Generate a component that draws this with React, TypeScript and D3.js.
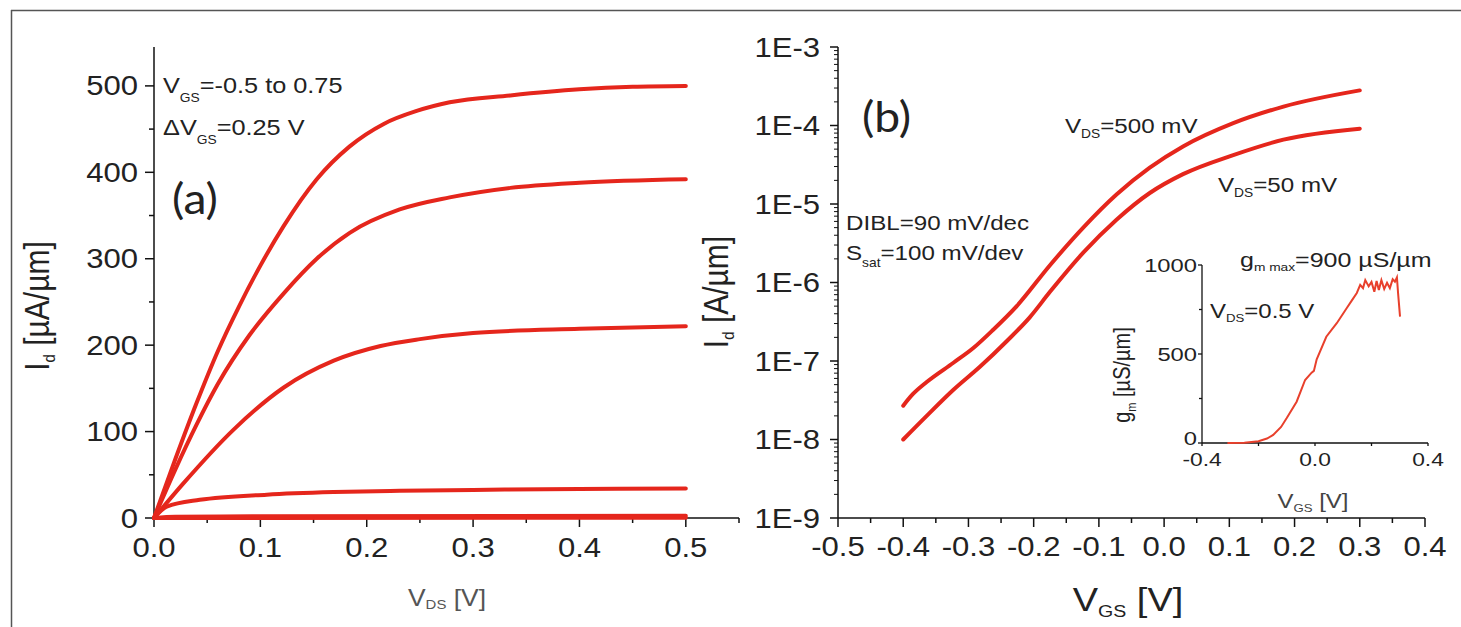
import React from 'react';
import * as d3 from 'd3';

// (a) output curves, [V_DS (V), I_d (uA/um)], V_GS = 0.75 ... -0.5
const outVgs075 = [[0, 0], [0.02, 68], [0.04, 133], [0.06, 193], [0.08, 245], [0.1, 292], [0.122, 338], [0.153, 392], [0.184, 430], [0.216, 456], [0.247, 471], [0.278, 481], [0.335, 489], [0.4, 496], [0.45, 499], [0.5, 500]];
const outVgs050 = [[0, 0], [0.02, 56], [0.04, 108], [0.06, 155], [0.09, 212], [0.122, 260], [0.153, 300], [0.184, 330], [0.231, 357], [0.278, 371], [0.335, 382], [0.4, 388], [0.5, 392]];
const outVgs025 = [[0, 0], [0.0276, 40], [0.0746, 102], [0.122, 151], [0.169, 182], [0.213, 199], [0.25, 207], [0.3, 214], [0.4, 219], [0.5, 222]];
const outVgs000 = [[0, 0], [0.012, 13], [0.043, 21], [0.106, 27], [0.169, 30], [0.231, 31.5], [0.3, 32.5], [0.4, 33.5], [0.5, 34]];
const outVgsM025 = [[0, 0], [0.02, 1.5], [0.1, 2], [0.5, 2.5]];
const outVgsM050 = [[0, 0], [0.5, 0.3]];
const outCurves = [outVgs075, outVgs050, outVgs025, outVgs000, outVgsM025, outVgsM050];

// (b) transfer curves
const vgsSat = [-0.4, -0.385, -0.364, -0.323, -0.293, -0.262, -0.226, -0.175, -0.124, -0.073, -0.022, 0.029, 0.106, 0.183, 0.3];
const idSat = [2.7e-8, 3.8e-8, 5.4e-8, 9.5e-8, 1.45e-7, 2.5e-7, 5.0e-7, 1.66e-6, 5.0e-6, 1.32e-5, 2.9e-5, 5.4e-5, 1.07e-4, 1.74e-4, 2.8e-4];
const vgsLin = [-0.4, -0.364, -0.323, -0.282, -0.241, -0.206, -0.175, -0.124, -0.073, -0.022, 0.029, 0.106, 0.183, 0.3];
const idLin = [1.0e-8, 2.0e-8, 4.3e-8, 8.5e-8, 1.8e-7, 3.6e-7, 7.6e-7, 2.4e-6, 6.3e-6, 1.38e-5, 2.4e-5, 4.2e-5, 6.6e-5, 9.1e-5];

// inset gm
const vgsGm = [-0.31, -0.25, -0.2, -0.17, -0.148, -0.12, -0.1, -0.065, -0.035, -0.012, -0.004, 0.006, 0.04, 0.077, 0.112, 0.13, 0.148, 0.16, 0.17, 0.178, 0.19, 0.2, 0.21, 0.218, 0.226, 0.235, 0.245, 0.255, 0.265, 0.275, 0.283, 0.29, 0.294, 0.301];
const gmVals = [0, 2, 10, 25, 45, 90, 140, 232, 354, 395, 405, 470, 597, 673, 757, 800, 843, 888, 870, 915, 880, 905, 850, 910, 860, 915, 865, 900, 870, 920, 906, 930, 843, 710];

const ticksA_X = [0, 0.1, 0.2, 0.3, 0.4, 0.5];
const ticksA_Y = [0, 100, 200, 300, 400, 500];
const ticksB_X = [-0.5, -0.4, -0.3, -0.2, -0.1, 0, 0.1, 0.2, 0.3, 0.4];
const ticksB_Y = [1e-9, 1e-8, 1e-7, 1e-6, 1e-5, 1e-4, 1e-3];
const ticksB_YLabels = ['1E-9', '1E-8', '1E-7', '1E-6', '1E-5', '1E-4', '1E-3'];
const ticksC_X = [-0.4, 0, 0.4];
const ticksC_Y = [0, 500, 1000];

const RED = '#e5261c';
const ARIAL = '"Liberation Sans", Arial, sans-serif';
const LATO = 'Lato, "Open Sans", sans-serif';
const SX = 1.15;
const INK = '#222';

function T({ x, y, size, anchor = 'start', fill = INK, family = ARIAL, sx = SX, rotate = false, spacing = 0, children }: any) {
  const tf = rotate
    ? `translate(${x},${y}) rotate(-90) scale(1,${sx})`
    : `translate(${x},${y}) scale(${sx},1)`;
  return (
    <text transform={tf} fontSize={size} textAnchor={anchor} fill={fill} fontFamily={family} letterSpacing={spacing}>
      {children}
    </text>
  );
}

function Sub({ main, sub, rest, size, dy }: any) {
  return (
    <>
      <tspan>{main}</tspan>
      <tspan fontSize={size} dy={dy}>{sub}</tspan>
      <tspan dy={-dy}>{rest}</tspan>
    </>
  );
}

export default function App() {
  const xA = d3.scaleLinear().domain([0, 0.55]).range([154, 739]);
  const yA = d3.scaleLinear().domain([0, 545]).range([518, 47]);
  const xB = d3.scaleLinear().domain([-0.5, 0.4]).range([838, 1425]);
  const yB = d3.scaleLog().domain([1e-9, 1e-3]).range([518, 47]);
  const xC = d3.scaleLinear().domain([-0.4, 0.4]).range([1202, 1428]);
  const yC = d3.scaleLinear().domain([0, 1000]).range([443, 265]);

  const lineA = d3.line<number[]>().x(d => xA(d[0])).y(d => yA(d[1])).curve(d3.curveMonotoneX);
  const lineB = (xs: number[], ys: number[]) =>
    d3.line<number>().x(d => xB(d)).y((d, i) => yB(ys[i])).curve(d3.curveMonotoneX)(xs);
  const lineC = d3.line<number>().x(d => xC(d)).y((d, i) => yC(gmVals[i]))(vgsGm);

  const minorA_X = d3.range(0, 0.551, 0.05);
  const minorA_Y = d3.range(0, 501, 50);
  const minorB_X = d3.range(-0.5, 0.401, 0.05);
  const minorB_Y: number[] = [];
  for (let e = -9; e < -3; e++) for (let m = 2; m < 10; m++) minorB_Y.push(m * Math.pow(10, e));

  return (
    <svg width={1461} height={627} style={{ position: 'absolute', left: 0, top: 0, background: '#fff' }}>
      {/* frame */}
      <line x1={11} x2={1461} y1={10.5} y2={10.5} stroke="#555" strokeWidth={1.5} />
      <line x1={11.5} x2={11.5} y1={10} y2={627} stroke="#555" strokeWidth={1.5} />

      {/* ---------- panel (a) ---------- */}
      <g stroke="#111" strokeWidth={1.5}>
        <line x1={xA(0)} x2={xA(0)} y1={yA(0)} y2={yA(545)} />
        <line x1={xA(0)} x2={xA(0.55)} y1={yA(0)} y2={yA(0)} />
        {minorA_Y.map(v => (
          <line key={'ay' + v} x1={xA(0)} x2={xA(0) - (v % 100 === 0 ? 9 : 5)} y1={yA(v)} y2={yA(v)} />
        ))}
        {minorA_X.map((v, i) => (
          <line key={'ax' + i} x1={xA(v)} x2={xA(v)} y1={yA(0)} y2={yA(0) + (i % 2 === 0 ? 9 : 5)} />
        ))}
      </g>
      {ticksA_Y.map(v => (
        <T key={'aly' + v} x={138} y={yA(v) + 9.5} size={27} anchor="end">{v}</T>
      ))}
      {ticksA_X.map(v => (
        <T key={'alx' + v} x={xA(v)} y={557} size={27} anchor="middle">{v.toFixed(1)}</T>
      ))}
      <g fill="none" stroke={RED} strokeWidth={4} strokeLinecap="round">
        {outCurves.map((c, i) => <path key={'oc' + i} d={lineA(c) || ''} />)}
      </g>
      <T x={49} y={306} size={30} anchor="middle" rotate>
        <Sub main="I" sub="d" rest=" [µA/µm]" size={15} dy={5} />
      </T>
      <T x={447} y={606} size={23} anchor="middle" fill="#555">
        <Sub main="V" sub="DS" rest=" [V]" size={13} dy={3} />
      </T>
      <T x={163} y={93} size={22}>
        <Sub main="V" sub="GS" rest="=-0.5 to 0.75" size={12} dy={9} />
      </T>
      <T x={163} y={135} size={22}>
        <Sub main="ΔV" sub="GS" rest="=0.25 V" size={12} dy={9} />
      </T>
      <T x={172} y={214} size={42} family={LATO} sx={1.1}>(a)</T>

      {/* ---------- panel (b) ---------- */}
      <g stroke="#111" strokeWidth={1.5}>
        <line x1={xB(-0.5)} x2={xB(-0.5)} y1={yB(1e-9)} y2={yB(1e-3)} />
        <line x1={xB(-0.5)} x2={xB(0.4)} y1={yB(1e-9)} y2={yB(1e-9)} />
        {ticksB_Y.map(v => (
          <line key={'by' + v} x1={xB(-0.5)} x2={xB(-0.5) - 8} y1={yB(v)} y2={yB(v)} />
        ))}
        {minorB_Y.map((v, i) => (
          <line key={'bym' + i} x1={xB(-0.5)} x2={xB(-0.5) - 4} y1={yB(v)} y2={yB(v)} strokeWidth={1} />
        ))}
        {minorB_X.map((v, i) => (
          <line key={'bx' + i} x1={xB(v)} x2={xB(v)} y1={yB(1e-9)} y2={yB(1e-9) + (i % 2 === 0 ? 9 : 5)} />
        ))}
      </g>
      {ticksB_Y.map((v, i) => (
        <T key={'bly' + i} x={820} y={yB(v) + 9.5} size={27} anchor="end">{ticksB_YLabels[i]}</T>
      ))}
      {ticksB_X.map(v => (
        <T key={'blx' + v} x={xB(v)} y={556} size={27} anchor="middle">{v.toFixed(1)}</T>
      ))}
      <g fill="none" stroke={RED} strokeWidth={4} strokeLinecap="round">
        <path d={lineB(vgsSat, idSat) || ''} />
        <path d={lineB(vgsLin, idLin) || ''} />
      </g>
      <T x={728} y={292} size={30} anchor="middle" rotate>
        <Sub main="I" sub="d" rest=" [A/µm]" size={15} dy={5} />
      </T>
      <T x={1128} y={611} size={33} anchor="middle">
        <Sub main="V" sub="GS" rest=" [V]" size={17} dy={6} />
      </T>
      <T x={862} y={132} size={42} family={LATO} sx={1.1}>(b)</T>
      <T x={1065} y={133} size={21}>
        <Sub main="V" sub="DS" rest="=500 mV" size={12} dy={5} />
      </T>
      <T x={1218} y={192} size={21}>
        <Sub main="V" sub="DS" rest="=50 mV" size={12} dy={5} />
      </T>
      <T x={846} y={230} size={21}>DIBL=90 mV/dec</T>
      <T x={846} y={260} size={21}>
        <Sub main="S" sub="sat" rest="=100 mV/dev" size={12} dy={7} />
      </T>

      {/* ---------- inset ---------- */}
      <g stroke="#111" strokeWidth={1.3}>
        <line x1={xC(-0.4)} x2={xC(-0.4)} y1={yC(0)} y2={yC(1000)} />
        <line x1={xC(-0.4)} x2={xC(0.4)} y1={yC(0)} y2={yC(0)} />
        {[0, 250, 500, 750, 1000].map(v => (
          <line key={'cy' + v} x1={xC(-0.4)} x2={xC(-0.4) - (v % 500 === 0 ? 4 : 3)} y1={yC(v)} y2={yC(v)} />
        ))}
        {[-0.4, -0.2, 0, 0.2, 0.4].map(v => (
          <line key={'cx' + v} x1={xC(v)} x2={xC(v)} y1={yC(0)} y2={yC(0) + 3} />
        ))}
      </g>
      {ticksC_Y.map(v => (
        <T key={'cly' + v} x={1197} y={yC(v) + (v === 0 ? 2 : 7)} size={19} anchor="end" sx={1.25}>{v}</T>
      ))}
      {ticksC_X.map(v => (
        <T key={'clx' + v} x={xC(v)} y={466} size={19} anchor="middle" sx={1.2}>{v.toFixed(1)}</T>
      ))}
      <path d={lineC || ''} fill="none" stroke="#e8402c" strokeWidth={2} />
      <T x={1130} y={375} size={20} anchor="middle" rotate sx={1.2}>
        <Sub main="g" sub="m" rest=" [µS/µm]" size={11} dy={5} />
      </T>
      <T x={1313} y={508} size={20} anchor="middle" sx={1.2} fill="#444">
        <Sub main="V" sub="GS" rest=" [V]" size={11} dy={4} />
      </T>
      <T x={1240} y={267} size={20} sx={1.25}>
        <Sub main="g" sub="m max" rest="=900 µS/µm" size={11} dy={4} />
      </T>
      <T x={1210} y={318} size={20} sx={1.2}>
        <Sub main="V" sub="DS" rest="=0.5 V" size={11} dy={4} />
      </T>
    </svg>
  );
}
